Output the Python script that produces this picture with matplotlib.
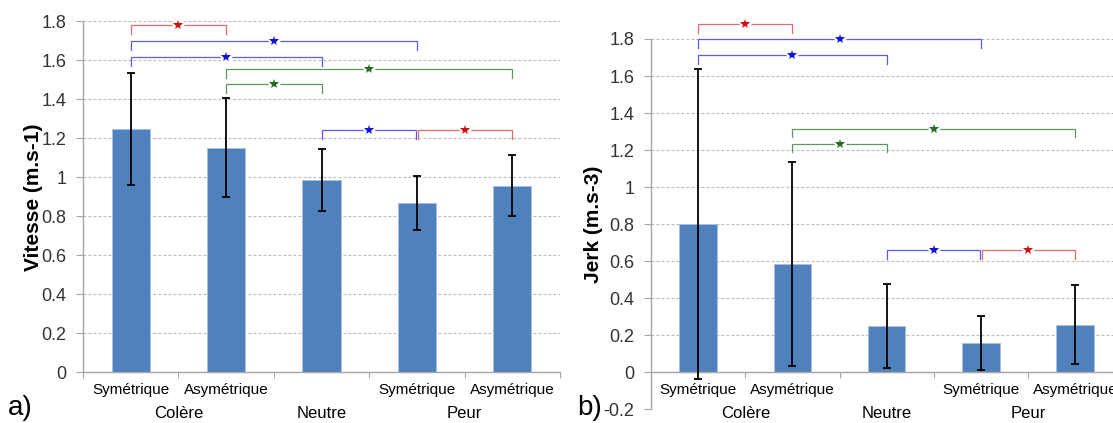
import matplotlib
matplotlib.use("Agg")
import matplotlib.pyplot as plt
from matplotlib.ticker import FixedLocator, NullFormatter

plt.rcParams['font.family'] = ['Liberation Sans', 'DejaVu Sans']

# ---------------- data ----------------
sub_labels = ['Symétrique', 'Asymétrique', '', 'Symétrique', 'Asymétrique']
group_labels = ['Colère', 'Neutre', 'Peur']
group_members = [(0, 1), (2, 2), (3, 4)]

vitesse_mean = [1.247, 1.152, 0.985, 0.866, 0.957]
vitesse_sd = [0.288, 0.255, 0.159, 0.139, 0.157]

jerk_mean = [0.800, 0.586, 0.250, 0.157, 0.258]
jerk_sd = [0.837, 0.551, 0.229, 0.147, 0.212]

# significance brackets: (bar i, bar j, level, colour key)
vitesse_sig = [(0, 1, 1.781, 'r'), (0, 3, 1.700, 'b'), (0, 2, 1.619, 'b'),
               (1, 4, 1.555, 'g'), (1, 2, 1.477, 'g'),
               (2, 3, 1.243, 'b'), (3, 4, 1.243, 'r')]
jerk_sig = [(0, 1, 1.881, 'r'), (0, 3, 1.800, 'b'), (0, 2, 1.712, 'b'),
            (1, 4, 1.314, 'g'), (1, 2, 1.233, 'g'),
            (2, 3, 0.659, 'b'), (3, 4, 0.659, 'r')]

line_cols = {'r': '#E36B6B', 'b': '#5A5AF5', 'g': '#5C9A5C'}
star_cols = {'r': '#D01010', 'b': '#1010E0', 'g': '#1E6E1E'}

BAR = '#4F81BD'
GRID = '#B8B8B8'
SPINE = '#A6A6A6'
TXT = '#333333'

W, H = 1113, 423
fig = plt.figure(figsize=(W / 100, H / 100), dpi=100)


def px_axes(l, t, r, b):
    return fig.add_axes([l / W, 1 - b / H, (r - l) / W, (b - t) / H])


def style(ax, ymin, ymax, yticks):
    n = len(vitesse_mean)
    ax.set_xlim(-0.5, n - 0.5)
    ax.set_ylim(ymin, ymax)
    ax.set_yticks(yticks)
    ax.set_yticklabels(['%g' % v for v in yticks], fontsize=13, color=TXT)
    ax.tick_params(axis='y', length=5, width=0.8, color=SPINE, pad=7)
    ax.xaxis.set_major_locator(FixedLocator([k - 0.5 for k in range(n + 1)]))
    ax.xaxis.set_major_formatter(NullFormatter())
    ax.tick_params(axis='x', length=4, width=0.8, color=SPINE, direction='out')
    for s in ['top', 'right']:
        ax.spines[s].set_visible(False)
    for s in ['left', 'bottom']:
        ax.spines[s].set_color(SPINE)
        ax.spines[s].set_linewidth(1.0)
    ax.set_axisbelow(True)
    ax.yaxis.grid(True, color=GRID, linestyle=(0, (2.5, 2)), linewidth=0.8)


def draw(ax, means, sds, sig, tick_len):
    xs = list(range(len(means)))
    ax.bar(xs, means, width=0.4, color=BAR, edgecolor='#A9C1DF', linewidth=0.7,
           zorder=2)
    ax.errorbar(xs, means, yerr=sds, fmt='none', ecolor='black', elinewidth=1.3,
                capsize=3, capthick=1.3, zorder=3, clip_on=False)
    for i, j, lev, c in sig:
        xi = i + (0.012 if (c == 'r' and i == 3) else 0)
        xj = j - (0.012 if (c == 'b' and j == 3 and lev < 1.5) else 0)
        ax.plot([xi, xi, xj, xj], [lev - tick_len, lev, lev, lev - tick_len],
                color=line_cols[c], linewidth=0.9, zorder=4, clip_on=False,
                solid_joinstyle='miter')
        xm = (i + j) / 2
        ax.plot([xm], [lev], marker='o', markersize=8.5, color='white',
                markeredgewidth=0, zorder=5, clip_on=False)
        ax.plot([xm], [lev], marker='*', markersize=7.5, color=star_cols[c],
                markeredgewidth=0, zorder=6, clip_on=False)


def xlabels(ax, y0):
    for k, lab in enumerate(sub_labels):
        if lab:
            ax.annotate(lab, xy=(k, y0), xycoords='data', xytext=(0, -18),
                        textcoords='offset pixels', ha='center', va='center',
                        fontsize=11, color='black', annotation_clip=False)
    for g, (a, b) in zip(group_labels, group_members):
        ax.annotate(g, xy=((a + b) / 2, y0), xycoords='data', xytext=(0, -41),
                    textcoords='offset pixels', ha='center', va='center',
                    fontsize=12, color='black', annotation_clip=False)


# ---------------- panel a ----------------
axa = px_axes(83, 21.5, 560, 372)
style(axa, 0, 1.8, [0, 0.2, 0.4, 0.6, 0.8, 1, 1.2, 1.4, 1.6, 1.8])
draw(axa, vitesse_mean, vitesse_sd, vitesse_sig, 0.046)
xlabels(axa, 0)
axa.set_ylabel('Vitesse (m.s-1)', fontsize=15, fontweight='bold')
axa.yaxis.set_label_coords((43 - 83) / 477, 0.5)
fig.text(8 / W, 1 - 408 / H, 'a)', fontsize=20, va='center', ha='left')

# ---------------- panel b ----------------
axb = px_axes(651, 39, 651 + 5 * 94.25, 409.3)
style(axb, -0.2, 1.8, [-0.2, 0, 0.2, 0.4, 0.6, 0.8, 1, 1.2, 1.4, 1.6, 1.8])
axb.spines['bottom'].set_position(('data', 0))
draw(axb, jerk_mean, jerk_sd, jerk_sig, 0.046)
xlabels(axb, 0)
axb.set_ylabel('Jerk (m.s-3)', fontsize=15, fontweight='bold')
axb.yaxis.set_label_coords((603 - 651) / 471.25, 0.5)
fig.text(577 / W, 1 - 408 / H, 'b)', fontsize=20, va='center', ha='left')

fig.savefig('out.png', dpi=100)
